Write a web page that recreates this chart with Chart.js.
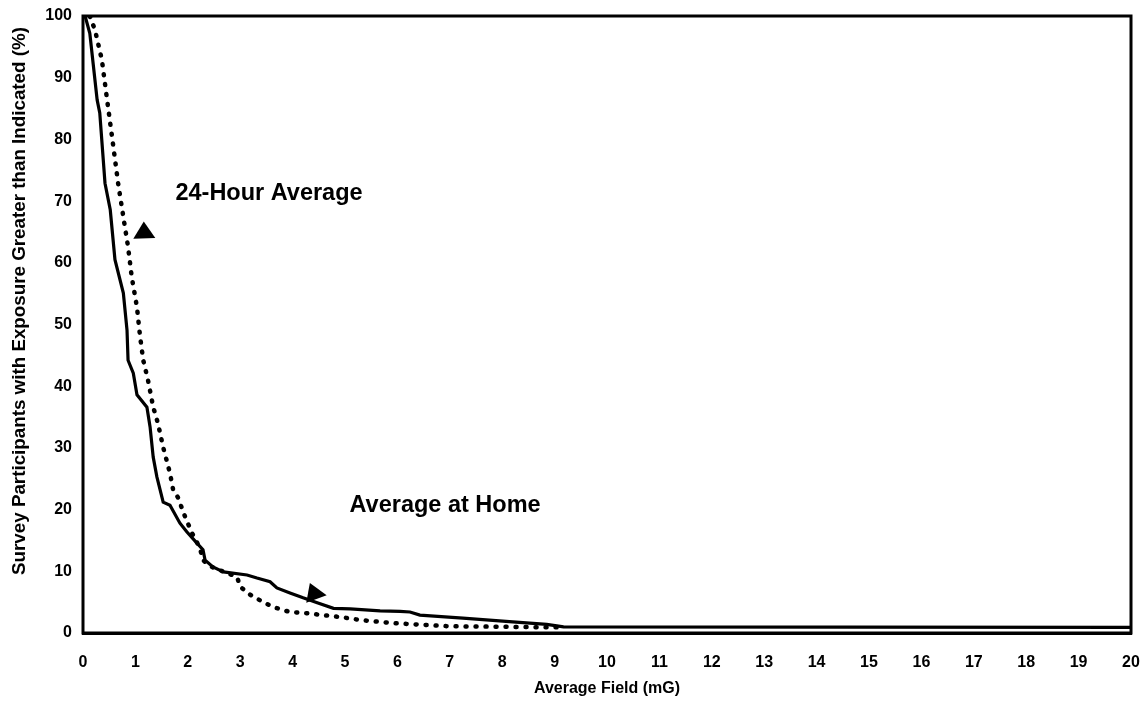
<!DOCTYPE html>
<html>
<head>
<meta charset="utf-8">
<title>Average Field Exposure</title>
<script src="https://cdn.jsdelivr.net/npm/chart.js@4/dist/chart.umd.min.js"></script>
<style>
	body { margin: 0; background: #fff; }
	canvas { display: block; }
</style>
</head>
<body>
<canvas id="fieldChart" width="1146" height="702"></canvas>
<script>
// average at home (solid line): field in mG / % of participants above it
const homeField = [0, 0.04, 0.13, 0.27, 0.32, 0.42, 0.52, 0.61, 0.77, 0.84, 0.86, 0.96, 1.03, 1.22, 1.28, 1.34,
	1.41, 1.53, 1.66, 1.85, 1.98, 2.17, 2.29, 2.33, 2.48, 2.68, 3.13, 3.32, 3.57, 3.70, 3.95, 4.20, 4.47,
	4.78, 5.10, 5.67, 6.05, 6.24, 6.43, 7.25, 8.20, 8.85, 9.17, 20];
const homePct = [100, 100, 97.2, 86.4, 84.3, 72.9, 68.6, 60.5, 55.1, 49.1, 44.2, 42.1, 38.6, 36.6, 33.4, 28.5,
	25.3, 21.2, 20.7, 17.8, 16.4, 14.6, 13.5, 11.8, 10.7, 9.9, 9.4, 8.9, 8.3, 7.3, 6.5, 5.7, 4.9,
	4.0, 3.9, 3.6, 3.5, 3.4, 2.9, 2.4, 1.8, 1.4, 1.0, 0.9];

// 24-hour average (dotted line)
const dayField = [0.13, 0.23, 0.36, 0.46, 0.57, 0.67, 0.80, 0.86, 0.93, 1.03, 1.09, 1.15, 1.24, 1.34, 1.43,
	1.53, 1.66, 1.72, 1.81, 1.95, 2.08, 2.23, 2.29, 2.46, 2.75, 2.94, 3.00, 3.19, 3.44, 3.63, 3.95, 4.28,
	4.58, 4.90, 5.29, 5.92, 6.95, 8.10, 9.2];
const dayPct = [100, 97.7, 92.9, 86.4, 79.4, 72.9, 65.8, 62.6, 57.7, 52.8, 48.0, 44.2, 41.0, 36.6, 34.0,
	30.1, 25.9, 23.2, 22.0, 18.8, 16.2, 13.8, 11.8, 10.7, 9.7, 9.1, 7.5, 6.2, 5.0, 4.2, 3.4, 3.2,
	2.9, 2.6, 2.1, 1.6, 1.1, 1.0, 0.9];

// axis ticks
const fieldTicks = [0, 1, 2, 3, 4, 5, 6, 7, 8, 9, 10, 11, 12, 13, 14, 15, 16, 17, 18, 19, 20];
const pctTicks = [0, 10, 20, 30, 40, 50, 60, 70, 80, 90, 100];

// curve labels and the arrowheads pointing at each curve (in axis units)
const noteText = ['24-Hour Average', 'Average at Home'];
const noteAt = [[3.55, 71.3], [6.91, 20.7]];
const dayArrow = [[0.96, 63.9], [1.16, 66.7], [1.38, 64.0]];
const homeArrow = [[4.26, 4.9], [4.33, 8.1], [4.65, 6.1]];

const yTitle = 'Survey Participants with Exposure Greater than Indicated (%)';
const FONT = "'Liberation Sans', Arial, sans-serif";

function toPoints(xs, ys){
	return xs.map(function(x, i){ return {x: x, y: ys[i]}; });
}

// box round the plot, arrows, curve labels, rotated y title
const extras = {
	id: 'extras',
	afterDatasetsDraw: function(chart){
		const c = chart.ctx, a = chart.chartArea;
		const sx = chart.scales.x, sy = chart.scales.y;
		c.save();
		c.strokeStyle = '#000';
		c.lineWidth = 3;
		c.strokeRect(a.left, a.top, a.right - a.left, a.bottom - a.top);

		c.fillStyle = '#000';
		[dayArrow, homeArrow].forEach(function(tri){
			c.beginPath();
			tri.forEach(function(p, i){
				const px = sx.getPixelForValue(p[0]), py = sy.getPixelForValue(p[1]);
				if(i == 0) c.moveTo(px, py); else c.lineTo(px, py);
			});
			c.closePath();
			c.fill();
		});

		c.font = 'bold 23.5px ' + FONT;
		c.textAlign = 'center';
		c.textBaseline = 'middle';
		noteText.forEach(function(t, i){
			c.fillText(t, sx.getPixelForValue(noteAt[i][0]), sy.getPixelForValue(noteAt[i][1]));
		});

		c.translate(20, 301);
		c.rotate(-Math.PI / 2);
		c.font = 'bold 18.8px ' + FONT;
		c.fillText(yTitle, 0, 0);
		c.restore();
	}
};

const chart = new Chart(document.getElementById('fieldChart'), {
	type: 'line',
	data: {
		datasets: [{
			label: 'Average at Home',
			data: toPoints(homeField, homePct),
			borderColor: '#000',
			borderWidth: 3.2,
			pointRadius: 0,
			tension: 0
		}, {
			label: '24-Hour Average',
			data: toPoints(dayField, dayPct),
			borderColor: '#000',
			borderWidth: 4.5,
			borderDash: [1, 9],
			borderCapStyle: 'round',
			pointRadius: 0,
			tension: 0
		}]
	},
	options: {
		responsive: false,
		animation: false,
		layout: { padding: { top: 16, right: 15 } },
		plugins: { legend: { display: false }, tooltip: { enabled: false } },
		scales: {
			x: {
				type: 'linear', min: 0, max: 20,
				afterBuildTicks: function(s){ s.ticks = fieldTicks.map(function(v){ return {value: v}; }); },
				afterFit: function(s){ s.height = 69; s.paddingLeft = 0; s.paddingRight = 0; },
				grid: { display: false },
				border: { color: '#000', width: 3 },
				ticks: { color: '#000', padding: 12, maxRotation: 0, font: { family: FONT, size: 16, weight: 'bold' } },
				title: { display: true, text: 'Average Field (mG)', color: '#000', padding: { top: 0, bottom: 4 },
					font: { family: FONT, size: 16, weight: 'bold' } }
			},
			y: {
				min: 0, max: 100,
				afterBuildTicks: function(s){ s.ticks = pctTicks.map(function(v){ return {value: v}; }); },
				afterFit: function(s){ s.width = 83; s.paddingTop = 0; s.paddingBottom = 0; },
				grid: { display: false },
				border: { color: '#000', width: 2 },
				ticks: { color: '#000', padding: 3, font: { family: FONT, size: 16, weight: 'bold' } }
			}
		}
	},
	plugins: [extras]
});
</script>
</body>
</html>
